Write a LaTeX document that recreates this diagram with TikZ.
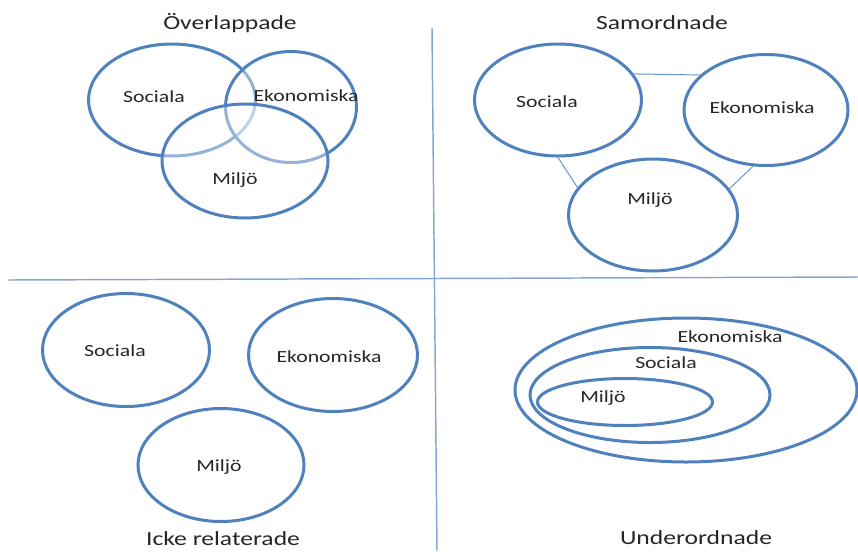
\documentclass[tikz,border=0pt]{standalone}
\usepackage{fontspec}
\setmainfont{Carlito}[FakeStretch=1.28]
\usetikzlibrary{shapes.geometric}
\definecolor{ringblue}{RGB}{79,129,189}
\definecolor{txtgray}{RGB}{38,38,38}
\tikzset{every picture/.style={line width=0.75pt}}
\tikzset{
  ring/.style={draw=ringblue, line width=2.25pt, ellipse, inner sep=0pt, fill=white},
  lbl/.style={inner sep=0.75pt, text=txtgray, font=\fontsize{12.75}{15}\selectfont},
  ttl/.style={inner sep=0.75pt, text=txtgray, font=\fontsize{15}{18}\selectfont},
  divider/.style={draw=ringblue!70, line width=1.1pt},
  link/.style={draw=ringblue!85, line width=0.75pt}
}
\begin{document}
\begin{tikzpicture}[x=0.75pt,y=0.75pt,yscale=-1,xscale=1]
\useasboundingbox (0,0) rectangle (858,551);
%quadrant dividers
\coordinate (vTop) at (432,28);
\coordinate (vBot) at (437,551);
\coordinate (hLeft) at (8,280);
\coordinate (hRight) at (858,277);
\draw [divider] (vTop) -- (vBot) ;
\draw [divider] (hLeft) -- (hRight) ;

%overlappade
\node [ring, fill opacity=0.4, minimum width=125.25pt, minimum height=84pt] (ovSoc) at (172,100) {};
\node [ring, fill opacity=0.4, minimum width=98.25pt, minimum height=83.25pt] (ovEko) at (291,107) {};
\node [ring, fill opacity=0.4, minimum width=124.5pt, minimum height=85.5pt] (ovMil) at (245,161) {};
\node [ttl] (ovTitle) at (230,23) {Överlappade};
\node [lbl] (ovSocTxt) at (154,97) {Sociala};
\node [lbl] (ovEkoTxt) at (306,96) {Ekonomiska};
\node [lbl] (ovMilTxt) at (235,180) {Miljö};

%samordnade
\node [ring, minimum width=125.25pt, minimum height=84pt] (saSoc) at (558,100) {};
\node [ring, minimum width=123pt, minimum height=83.25pt] (saEko) at (766,110) {};
\node [ring, minimum width=126.75pt, minimum height=84pt] (saMil) at (653,215) {};
\draw [link] (saSoc.19) -- (saEko.152) ;
\draw [link] (saSoc.-90) -- (saMil.160) ;
\draw [link] (saEko.257) -- (saMil.19) ;
\node [ttl] (saTitle) at (662,23) {Samordnade};
\node [lbl] (saSocTxt) at (547,102) {Sociala};
\node [lbl] (saEkoTxt) at (762,108) {Ekonomiska};
\node [lbl] (saMilTxt) at (650,200) {Miljö};

%icke relaterade
\node [ring, minimum width=125.25pt, minimum height=84.75pt] (irSoc) at (126,350) {};
\node [ring, minimum width=126.75pt, minimum height=84.75pt] (irEko) at (333,355) {};
\node [ring, minimum width=124.5pt, minimum height=84.75pt] (irMil) at (221,465) {};
\node [lbl] (irSocTxt) at (115,351) {Sociala};
\node [lbl] (irEkoTxt) at (329,357) {Ekonomiska};
\node [lbl] (irMilTxt) at (219,467) {Miljö};
\node [ttl] (irTitle) at (223,539) {Icke relaterade};

%underordnade
\node [ring, minimum width=256.5pt, minimum height=108pt] (unEko) at (686,390) {};
\node [ring, minimum width=180pt, minimum height=71.25pt] (unSoc) at (650,395) {};
\node [ring, minimum width=131.25pt, minimum height=35.25pt] (unMil) at (625,402) {};
\node [lbl] (unEkoTxt) at (730,337) {Ekonomiska};
\node [lbl] (unSocTxt) at (666,363) {Sociala};
\node [lbl] (unMilTxt) at (603,398) {Miljö};
\node [ttl] (unTitle) at (696,538) {Underordnade};
\end{tikzpicture}
\end{document}
